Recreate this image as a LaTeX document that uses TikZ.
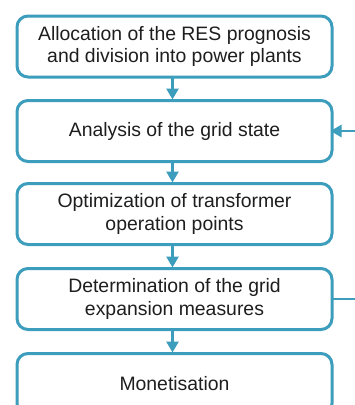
\documentclass[tikz,border=0pt]{standalone}
\usepackage{fontspec}
\setmainfont{Liberation Sans}
\usetikzlibrary{arrows.meta}
\definecolor{flowblue}{HTML}{3C9DBC}
\definecolor{txt}{HTML}{1E1E1E}
\begin{document}
\begin{tikzpicture}[x=1pt,y=-1pt,
  stepbox/.style={draw=flowblue, line width=3pt, rounded corners=11pt, fill=white,
    minimum width=315pt, minimum height=61pt, align=center, text=txt,
    font=\fontsize{19.4}{22.5}\selectfont, inner sep=0pt, outer sep=0pt},
  flow/.style={draw=flowblue, line width=2.8pt, -{Triangle[length=11pt,width=12pt]}},
  plain/.style={draw=flowblue, line width=2.8pt}]
\useasboundingbox (0,0) rectangle (355,405);
\clip (0,0) rectangle (355,405);
\node[stepbox] (b1) at (174.5,46.5) {Allocation of the RES prognosis\\and division into power plants};
\node[stepbox] (b2) at (174.5,131) {Analysis of the grid state};
\node[stepbox] (b3) at (174.5,214) {Optimization of transformer\\operation points};
\node[stepbox] (b4) at (174.5,299) {Determination of the grid\\expansion measures};
\node[stepbox] (b5) at (174.5,384) {Monetisation};
\coordinate (in2) at (365,131);
\coordinate (out4) at (365,299);
\draw[flow] ([xshift=-2pt]b1.south) -- ([xshift=-2pt,yshift=1pt]b2.north);
\draw[flow] ([xshift=-2pt]b2.south) -- ([xshift=-2pt,yshift=1pt]b3.north);
\draw[flow] ([xshift=-2pt]b3.south) -- ([xshift=-2pt,yshift=1pt]b4.north);
\draw[flow] ([xshift=-2pt]b4.south) -- ([xshift=-2pt,yshift=1pt]b5.north);
\draw[flow] (in2) -- ([xshift=-1.5pt]b2.east);
\draw[plain] ([xshift=-1.5pt]b4.east) -- (out4);
\end{tikzpicture}
\end{document}
